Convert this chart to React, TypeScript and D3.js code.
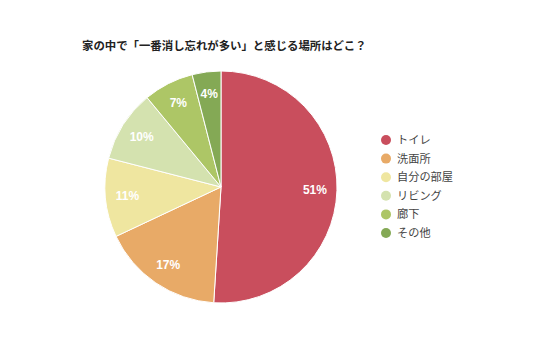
import React from "react";
import * as d3 from "d3";

const categories = ["トイレ", "洗面所", "自分の部屋", "リビング", "廊下", "その他"];
const values = [51, 17, 11, 10, 7, 4];
const colors = ["#C94E5D", "#E8AA67", "#EFE6A0", "#D4E2AF", "#ADC666", "#84A955"];
const title = "家の中で「一番消し忘れが多い」と感じる場所はどこ？";

export default function App() {
  const W = 536, H = 357;
  const cx = 221, cy = 187, r = 116;
  const pie = d3.pie<number>().sort(null).value((d) => d);
  const arcs = pie(values);
  const arc = d3.arc<d3.PieArcDatum<number>>().innerRadius(0).outerRadius(r);
  const labelArc = d3.arc<d3.PieArcDatum<number>>().innerRadius(r * 0.81).outerRadius(r * 0.81);
  const legendY = d3.scaleLinear().domain([0, categories.length - 1]).range([140, 233]);
  const font = "'Noto Sans CJK JP', 'Noto Sans', sans-serif";
  return (
    <svg width={W} height={H} style={{ position: "absolute", left: 0, top: 0 }} fontFamily={font}>
      <rect width={W} height={H} fill="#fff" />
      <text x={82} y={50} fontSize={11.4} fontWeight="bold" fill="#222">{title}</text>
      <g transform={`translate(${cx},${cy})`}>
        {arcs.map((a, i) => (
          <path key={i} d={arc(a) || ""} fill={colors[i]} stroke="#fff" strokeWidth={1} />
        ))}
        {arcs.map((a, i) => {
          const [x, y] = labelArc.centroid(a);
          return (
            <text key={i} x={x} y={y} dy="0.35em" textAnchor="middle" fontSize={12} fontWeight="bold" fill="#fff"
              fontFamily="'Liberation Sans', Arial, sans-serif">
              {values[i]}%
            </text>
          );
        })}
      </g>
      {categories.map((c, i) => (
        <g key={c} transform={`translate(386,${legendY(i)})`}>
          <circle r={5} fill={colors[i]} />
          <text x={11} dy="0.36em" fontSize={11.2} fill="#444">{c}</text>
        </g>
      ))}
    </svg>
  );
}
